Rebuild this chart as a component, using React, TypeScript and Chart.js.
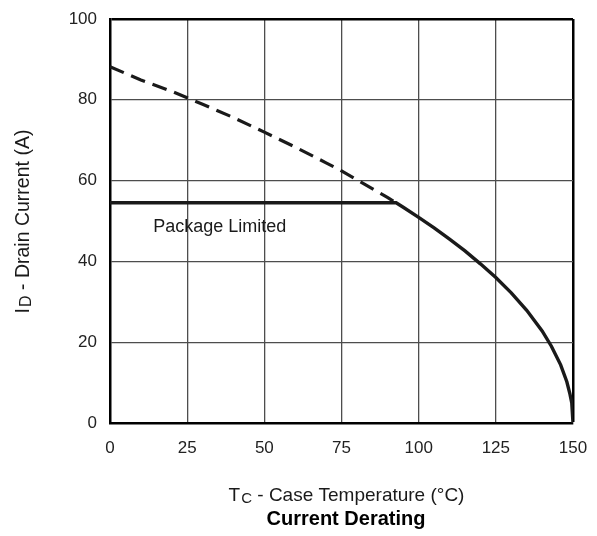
import React, { useEffect, useRef } from "react";
import { Chart, registerables } from "chart.js";

Chart.register(...registerables);

// Thermal limit (dashed, extends to left)
const thermalT = [0, 10, 20, 25, 30, 40, 50, 60, 70, 75, 80, 90, 92.7];
const thermalI = [88.2, 84.9, 82.1, 80.5, 78.9, 75.6, 72.0, 68.3, 64.4, 62.4, 60.2, 55.8, 54.5];

// Actual derating curve (solid)
const deratingT = [0, 92.7, 95, 100, 105, 110, 115, 120, 125, 130, 135, 140, 143, 146, 148, 149, 149.6, 150];
const deratingI = [54.5, 54.5, 53.4, 50.9, 48.3, 45.5, 42.6, 39.4, 36.0, 32.2, 27.9, 22.8, 19.0, 14.4, 10.2, 7.2, 5.0, 0];

const xTicks = [0, 25, 50, 75, 100, 125, 150];
const yTicks = [0, 20, 40, 60, 80, 100];

const FONT = "'Liberation Sans', Arial, Helvetica, sans-serif";

const textPlugin = {
  id: "derTexts",
  afterDraw(chart: any) {
    const { ctx } = chart;
    ctx.save();
    ctx.fillStyle = "#1a1a1a";
    // Package Limited annotation
    ctx.font = `18px ${FONT}`;
    ctx.textAlign = "left";
    ctx.textBaseline = "alphabetic";
    const px = chart.scales.x.getPixelForValue(14.0);
    const py = chart.scales.y.getPixelForValue(47.4);
    ctx.fillText("Package Limited", px, py);

    const drawSub = (main: string, sub: string, rest: string, x: number, y: number, size: number) => {
      const subSize = Math.round(size * 0.8);
      ctx.font = `${size}px ${FONT}`;
      const w1 = ctx.measureText(main).width;
      ctx.font = `${subSize}px ${FONT}`;
      const w2 = ctx.measureText(sub).width;
      ctx.font = `${size}px ${FONT}`;
      const w3 = ctx.measureText(rest).width;
      const total = w1 + w2 + w3;
      let sx = x - total / 2;
      ctx.textAlign = "left";
      ctx.textBaseline = "alphabetic";
      ctx.font = `${size}px ${FONT}`;
      ctx.fillText(main, sx, y);
      sx += w1 + 1;
      ctx.font = `${subSize}px ${FONT}`;
      ctx.fillText(sub, sx, y + 2);
      sx += w2;
      ctx.font = `${size}px ${FONT}`;
      ctx.fillText(rest, sx, y);
    };
    // X axis title
    drawSub("T", "C", " - Case Temperature (°C)", 346, 501, 19);

    // Y axis title rotated
    ctx.save();
    ctx.translate(28.5, 222);
    ctx.rotate(-Math.PI / 2);
    drawSub("I", "D", " - Drain Current (A)", 0, 0, 19.5);
    ctx.restore();

    // Bottom title
    ctx.font = `bold 20px ${FONT}`;
    ctx.textAlign = "center";
    ctx.textBaseline = "alphabetic";
    ctx.fillStyle = "#000";
    ctx.fillText("Current Derating", 346, 524.5);
    ctx.restore();
  },
};

const zeroPad = (s: any) => {
  s.paddingLeft = 0;
  s.paddingRight = 0;
  s.paddingTop = 0;
  s.paddingBottom = 0;
};

export default function App() {
  const ref = useRef<HTMLCanvasElement>(null);

  useEffect(() => {
    document.body.style.margin = "0";
    const canvas = ref.current;
    if (!canvas) return;
    const chart = new Chart(canvas, {
      type: "line",
      data: {
        datasets: [
          {
            data: thermalT.map((t, i) => ({ x: t, y: thermalI[i] })),
            borderColor: "#1a1a1a",
            borderWidth: 3.2,
            borderDash: [15, 8],
            pointRadius: 0,
            tension: 0,
            fill: false,
          },
          {
            data: deratingT.map((t, i) => ({ x: t, y: deratingI[i] })),
            borderColor: "#1a1a1a",
            borderWidth: 3.4,
            pointRadius: 0,
            tension: 0,
            fill: false,
          },
        ],
      },
      options: {
        responsive: false,
        animation: false,
        events: [],
        layout: { padding: { top: 19, right: 24, left: 0, bottom: 0 } },
        plugins: {
          legend: { display: false },
          tooltip: { enabled: false },
          title: { display: false },
        },
        scales: {
          x: {
            type: "linear",
            min: 0,
            max: 150,
            afterFit: (s: any) => {
              s.height = 113;
              zeroPad(s);
            },
            afterBuildTicks: (s: any) => {
              s.ticks = xTicks.map((v) => ({ value: v }));
            },
            grid: {
              drawTicks: false,
              color: (c: any) => (c.tick && c.tick.value === 150 ? "#000" : "#4d4d4d"),
              lineWidth: (c: any) => (c.tick && c.tick.value === 150 ? 2.5 : 1.3),
            },
            border: { color: "#000", width: 2.5 },
            ticks: {
              padding: 15,
              color: "#222",
              font: { family: FONT, size: 17 },
              maxRotation: 0,
            },
          },
          y: {
            type: "linear",
            min: 0,
            max: 100,
            afterFit: (s: any) => {
              s.width = 110;
              zeroPad(s);
            },
            afterBuildTicks: (s: any) => {
              s.ticks = yTicks.map((v) => ({ value: v }));
            },
            grid: {
              drawTicks: false,
              color: (c: any) => (c.tick && c.tick.value === 100 ? "#000" : "#4d4d4d"),
              lineWidth: (c: any) => (c.tick && c.tick.value === 100 ? 2.5 : 1.3),
            },
            border: { color: "#000", width: 2.5 },
            ticks: {
              padding: 13,
              color: "#222",
              font: { family: FONT, size: 17 },
            },
          },
        },
      },
      plugins: [textPlugin],
    });
    return () => chart.destroy();
  }, []);

  return <canvas ref={ref} width={597} height={536} style={{ display: "block" }} />;
}
